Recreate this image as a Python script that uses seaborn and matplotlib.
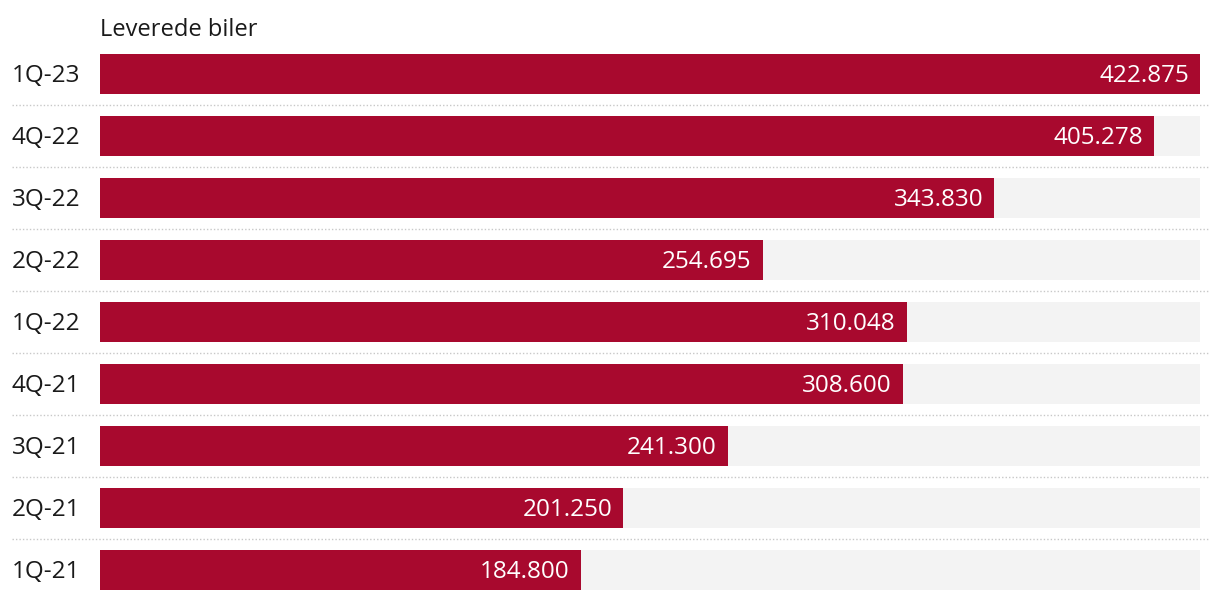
import pandas as pd
import numpy as np
import matplotlib
matplotlib.use("Agg")
import matplotlib.pyplot as plt
import matplotlib.transforms as mtransforms
import seaborn as sns

quarters = ["1Q-23", "4Q-22", "3Q-22", "2Q-22", "1Q-22", "4Q-21", "3Q-21", "2Q-21", "1Q-21"]
delivered = [422875, 405278, 343830, 254695, 310048, 308600, 241300, 201250, 184800]
value_labels = ["422.875", "405.278", "343.830", "254.695", "310.048", "308.600", "241.300", "201.250", "184.800"]

sns.set_style("white")
plt.rcParams['font.family'] = ['Open Sans', 'DejaVu Sans']

df = pd.DataFrame({"quarter": quarters, "delivered": delivered})
df["full"] = max(delivered)

fig = plt.figure(figsize=(12.2, 6), dpi=100)
ax = fig.add_axes([100 / 1220, 0, 1100 / 1220, 557 / 600])

sns.barplot(data=df, y="quarter", x="full", color="#f3f3f3", width=0.645, ax=ax,
            saturation=1, order=quarters, linewidth=0)
sns.barplot(data=df, y="quarter", x="delivered", color="#a8092e", width=0.645, ax=ax,
            saturation=1, order=quarters, linewidth=0)

ax.set_xlim(0, max(delivered))
ax.set_ylim(8.484, -0.5)
ax.set_xlabel("")
ax.set_ylabel("")
ax.set_xticks([])
ax.set_yticks([])
sns.despine(ax=ax, left=True, bottom=True)

trans = mtransforms.blended_transform_factory(ax.transAxes, ax.transData)
for i, (q, v, lab) in enumerate(zip(quarters, delivered, value_labels)):
    ax.text(-88 / 1100, i + 0.03, q, transform=trans, ha="left", va="center",
            fontsize=17.5, color="#1a1a1a")
    ax.annotate(lab, (v, i + 0.03), xytext=(-11, 0), textcoords="offset pixels",
                ha="right", va="center", fontsize=17.5, color="white")

for i in range(len(quarters) - 1):
    ax.plot([-88 / 1100, 1.007], [i + 0.5, i + 0.5], transform=trans, clip_on=False,
            color="#c8c8c8", linestyle=(0, (1, 1.5)), linewidth=1)

ax.text(0, -0.52, "Leverede biler", transform=trans, ha="left", va="bottom",
        fontsize=17, color="#1a1a1a")

fig.savefig("out.png", dpi=100, facecolor="white")
